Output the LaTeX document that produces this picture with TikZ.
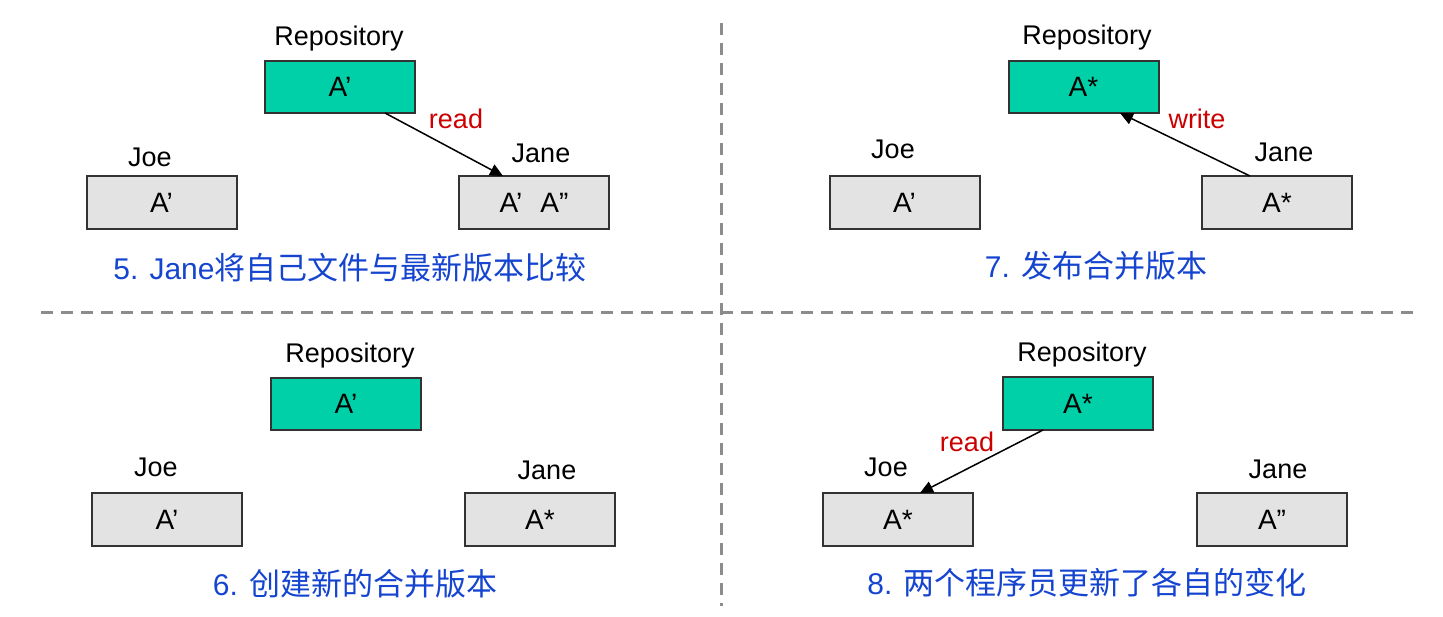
\documentclass[tikz,border=0pt]{standalone}
\usepackage{fontspec}
\setmainfont{Liberation Sans}
\newfontfamily\cjk{Noto Sans CJK SC}
\newcommand{\zh}[1]{{\cjk\fontsize{31}{36}\selectfont #1}}
\usetikzlibrary{arrows.meta}
\definecolor{repofill}{HTML}{00D0A8}
\definecolor{userfill}{HTML}{E3E3E3}
\definecolor{boxline}{HTML}{333333}
\definecolor{capblue}{HTML}{1545D0}
\definecolor{labred}{HTML}{CC0000}
\definecolor{divgray}{HTML}{8C8C8C}
\tikzset{
  repobox/.style={draw=boxline, line width=2pt, fill=repofill, minimum width=150pt, minimum height=52pt, inner sep=0pt, font=\fontsize{28}{32}\selectfont},
  userbox/.style={draw=boxline, line width=2pt, fill=userfill, minimum width=150pt, minimum height=53pt, inner sep=0pt, font=\fontsize{28}{32}\selectfont},
  namelab/.style={inner sep=0pt, font=\fontsize{27}{32}\selectfont},
  actlab/.style={inner sep=0pt, text=labred, font=\fontsize{27}{32}\selectfont},
  caption/.style={inner sep=0pt, text=capblue, font=\fontsize{30}{34}\selectfont},
  flow/.style={-{Triangle[length=13pt,width=12pt]}, line width=1.5pt, black},
  divider/.style={draw=divgray, line width=3pt, dash pattern=on 12pt off 8pt}
}
\begin{document}
\begin{tikzpicture}[x=1pt,y=-1pt]
\useasboundingbox (0,0) rectangle (1443,617);
% dividers
\coordinate (vt) at (721,23);
\coordinate (vb) at (721,606);
\coordinate (hl) at (41,313);
\coordinate (hr) at (1420,313);
\draw[divider] (vt) -- (vb);
\draw[divider] (hl) -- (hr);

% Panel 5
\node[repobox] (r5) at (340,87) {A’};
\node[namelab] (r5l) at (339,39) {Repository};
\node[userbox] (jo5) at (161.5,202.5) {A’};
\node[namelab] (jo5l) at (150,157) {Joe};
\node[userbox] (ja5) at (534,202.5) {A’\hspace{18pt}A”};
\node[namelab] (ja5l) at (541,153) {Jane};
\coordinate (a5s) at (385,113);
\coordinate (a5e) at (503,176);
\draw[flow] (a5s) -- (a5e);
\node[actlab] (rd5) at (456,119) {read};
\node[caption] (c5) at (350,268) {5. Jane\zh{将自己文件与最新版本比较}};

% Panel 7
\node[repobox] (r7) at (1083.5,87) {A*};
\node[namelab] (r7l) at (1087,38) {Repository};
\node[userbox] (jo7) at (904.5,202.5) {A’};
\node[namelab] (jo7l) at (893,149) {Joe};
\node[userbox] (ja7) at (1277,202.5) {A*};
\node[namelab] (ja7l) at (1284,152) {Jane};
\coordinate (a7s) at (1250,176);
\coordinate (a7e) at (1120,113);
\draw[flow] (a7s) -- (a7e);
\node[actlab] (wr7) at (1197,119) {write};
\node[caption] (c7) at (1096,266) {7. \zh{发布合并版本}};

% Panel 6
\node[repobox] (r6) at (346,404) {A’};
\node[namelab] (r6l) at (350,356) {Repository};
\node[userbox] (jo6) at (167,519.5) {A’};
\node[namelab] (jo6l) at (156,467) {Joe};
\node[userbox] (ja6) at (540,519.5) {A*};
\node[namelab] (ja6l) at (547,470) {Jane};
\node[caption] (c6) at (355,584) {6. \zh{创建新的合并版本}};

% Panel 8
\node[repobox] (r8) at (1078,403.5) {A*};
\node[namelab] (r8l) at (1082,355) {Repository};
\node[userbox] (jo8) at (898,519.5) {A*};
\node[namelab] (jo8l) at (886,467) {Joe};
\node[userbox] (ja8) at (1272,519.5) {A”};
\node[namelab] (ja8l) at (1278,469) {Jane};
\coordinate (a8s) at (1043,430);
\coordinate (a8e) at (920,493);
\draw[flow] (a8s) -- (a8e);
\node[actlab] (rd8) at (967,442) {read};
\node[caption] (c8) at (1087,583) {8. \zh{两个程序员更新了各自的变化}};
\end{tikzpicture}
\end{document}
